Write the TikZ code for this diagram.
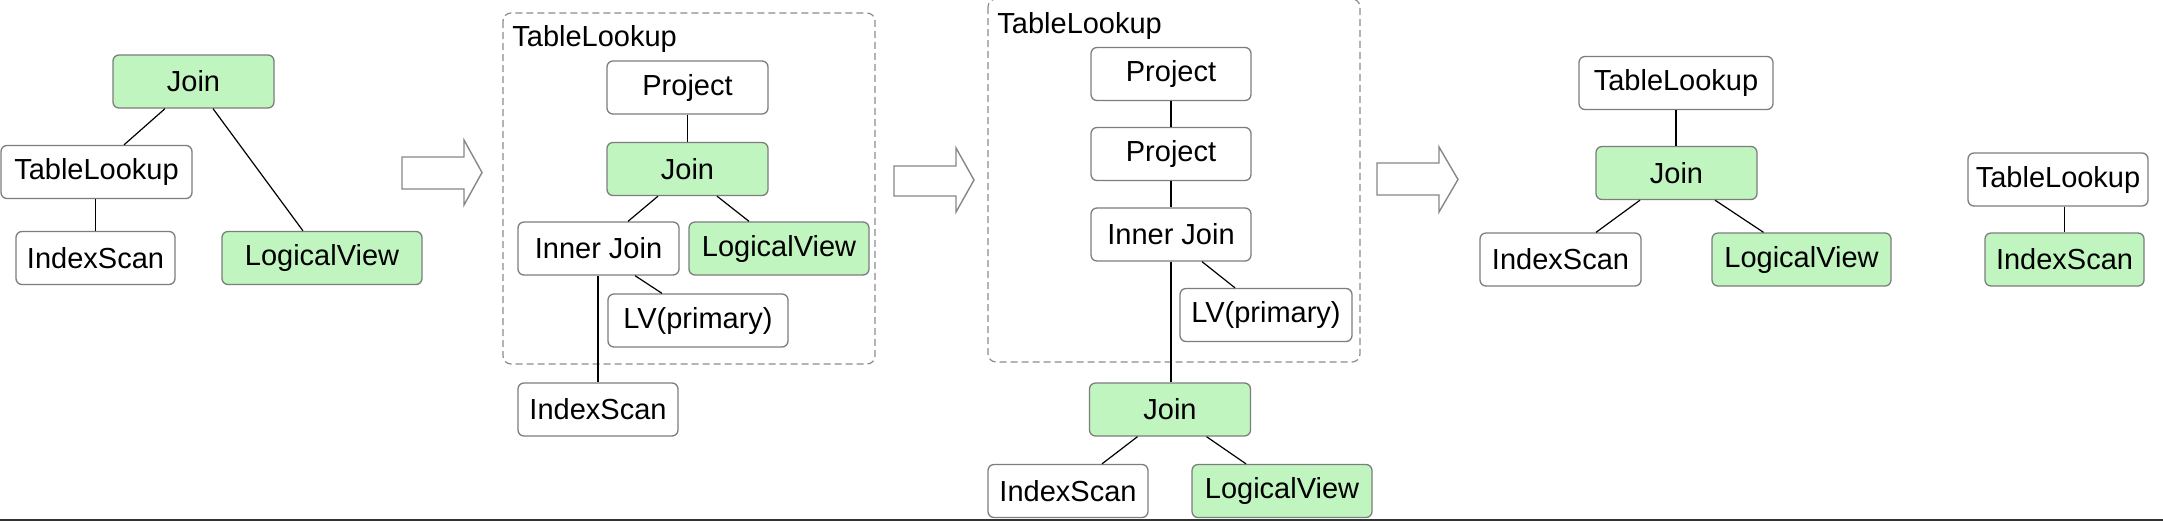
\documentclass[tikz,border=0pt]{standalone}
\usepackage{fontspec}
\setmainfont{Liberation Sans}
\definecolor{boxgreen}{RGB}{192,245,192}
\definecolor{boxborder}{RGB}{125,125,125}
\definecolor{dashgray}{RGB}{140,140,140}
\definecolor{arrowgray}{RGB}{135,135,135}
\begin{document}
\begin{tikzpicture}[x=0.5pt,y=-0.5pt,
  font=\fontsize{14.5}{17}\selectfont,
  nodebox/.style={draw=boxborder, line width=0.65pt, rounded corners=3pt, fill=white,
    minimum height=26.5pt, inner sep=0pt, text=black},
  hl/.style={fill=boxgreen},
  link/.style={draw=black, line width=0.6pt},
  blockarrow/.style={draw=arrowgray, fill=white, line width=0.7pt, line join=miter},
  group/.style={draw=dashgray, dash pattern=on 3.5pt off 2pt, line width=0.6pt, rounded corners=4pt},
  grouplabel/.style={anchor=base west, inner sep=0pt, text=black}
]
\fill[white] (0,0) rectangle (2163,521);
\useasboundingbox (0,0) rectangle (2163,521);

% ---------- Panel 1 ----------
\node[nodebox, hl, minimum width=80.5pt] (j1) at (193.5,81.5) {Join};
\node[nodebox, minimum width=95.5pt] (tl1) at (96.5,172) {TableLookup};
\node[nodebox, minimum width=79.5pt] (is1) at (95.5,258) {IndexScan};
\node[nodebox, hl, minimum width=100pt] (lv1) at (322,258) {LogicalView};
\draw[link] ([xshift=-14.25pt]j1.south) -- ([xshift=13.75pt]tl1.north);
\draw[link] ([xshift=9.75pt]j1.south) -- ([xshift=-9.5pt]lv1.north);
\draw[link] (is1.north |- tl1.south) -- (is1.north);

% arrow 1
\draw[blockarrow] (402,157) -- (464,157) -- (464,140) -- (482,172.5) -- (464,205) -- (464,189) -- (402,189) -- cycle;

% ---------- Panel 2 ----------
\draw[group] (503,13) rectangle (875,364);
\node[grouplabel] (g2) at (512,46) {TableLookup};
\node[nodebox, minimum width=80.5pt] (p2) at (687.5,87.5) {Project};
\node[nodebox, hl, minimum width=80.5pt] (j2) at (687.5,169) {Join};
\node[nodebox, minimum width=80.5pt] (ij2) at (598.5,248.5) {Inner Join};
\node[nodebox, hl, minimum width=90pt] (lv2) at (779,248.5) {LogicalView};
\node[nodebox, minimum width=90pt] (lvp2) at (698,320.5) {LV(primary)};
\node[nodebox, minimum width=80pt] (is2) at (598,409.5) {IndexScan};
\draw[link] (p2.south) -- (j2.north);
\draw[link] ([xshift=-14.75pt]j2.south) -- ([xshift=14.75pt]ij2.north);
\draw[link] ([xshift=14.75pt]j2.south) -- ([xshift=-15pt]lv2.north);
\draw[link] ([xshift=18.25pt]ij2.south) -- ([xshift=-18pt]lvp2.north);
\draw[link] (is2.north |- ij2.south) -- (is2.north);

% arrow 2
\draw[blockarrow] (894,166) -- (956,166) -- (956,148) -- (974,180) -- (956,212) -- (956,196) -- (894,196) -- cycle;

% ---------- Panel 3 ----------
\draw[group] (988,-1) rectangle (1360,362);
\node[grouplabel] (g3) at (997,33) {TableLookup};
\node[nodebox, minimum width=80pt] (p3a) at (1171,74) {Project};
\node[nodebox, minimum width=80pt] (p3b) at (1171,154) {Project};
\node[nodebox, minimum width=80pt] (ij3) at (1171,234.5) {Inner Join};
\node[nodebox, minimum width=86pt] (lvp3) at (1266,315) {LV(primary)};
\node[nodebox, hl, minimum width=80.5pt] (j3) at (1170,409.5) {Join};
\node[nodebox, minimum width=80pt] (is3) at (1068,491) {IndexScan};
\node[nodebox, hl, minimum width=90pt] (lv3) at (1282,491) {LogicalView};
\draw[link] (p3a.south) -- (p3b.north);
\draw[link] (p3b.south) -- (ij3.north);
\draw[link] (ij3.south) -- (ij3.south |- j3.north);
\draw[link] ([xshift=15.5pt]ij3.south) -- ([xshift=-15.5pt]lvp3.north);
\draw[link] ([xshift=-16.25pt]j3.south) -- ([xshift=17pt]is3.north);
\draw[link] ([xshift=18.25pt]j3.south) -- ([xshift=-18pt]lv3.north);

% arrow 3
\draw[blockarrow] (1377,163) -- (1439,163) -- (1439,147) -- (1458,179.5) -- (1439,212) -- (1439,195) -- (1377,195) -- cycle;

% ---------- Panel 4 ----------
\node[nodebox, minimum width=97pt] (tl4) at (1676,83) {TableLookup};
\node[nodebox, hl, minimum width=80.5pt] (j4) at (1676.5,173) {Join};
\node[nodebox, minimum width=80.5pt] (is4) at (1560.5,259.5) {IndexScan};
\node[nodebox, hl, minimum width=89.5pt] (lv4) at (1801.5,259.5) {LogicalView};
\node[nodebox, minimum width=90pt] (tl5) at (2058,179.5) {TableLookup};
\node[nodebox, hl, minimum width=79.5pt] (is5) at (2064.5,259.5) {IndexScan};
\draw[link] (tl4.south) -- (tl4.south |- j4.north);
\draw[link] ([xshift=-18.25pt]j4.south) -- ([xshift=17.75pt]is4.north);
\draw[link] ([xshift=19.25pt]j4.south) -- ([xshift=-19pt]lv4.north);
\draw[link] (is5.north |- tl5.south) -- (is5.north);

% bottom rule
\draw[draw=black!80, line width=1pt] (0,520) -- (2163,520);
\end{tikzpicture}
\end{document}
